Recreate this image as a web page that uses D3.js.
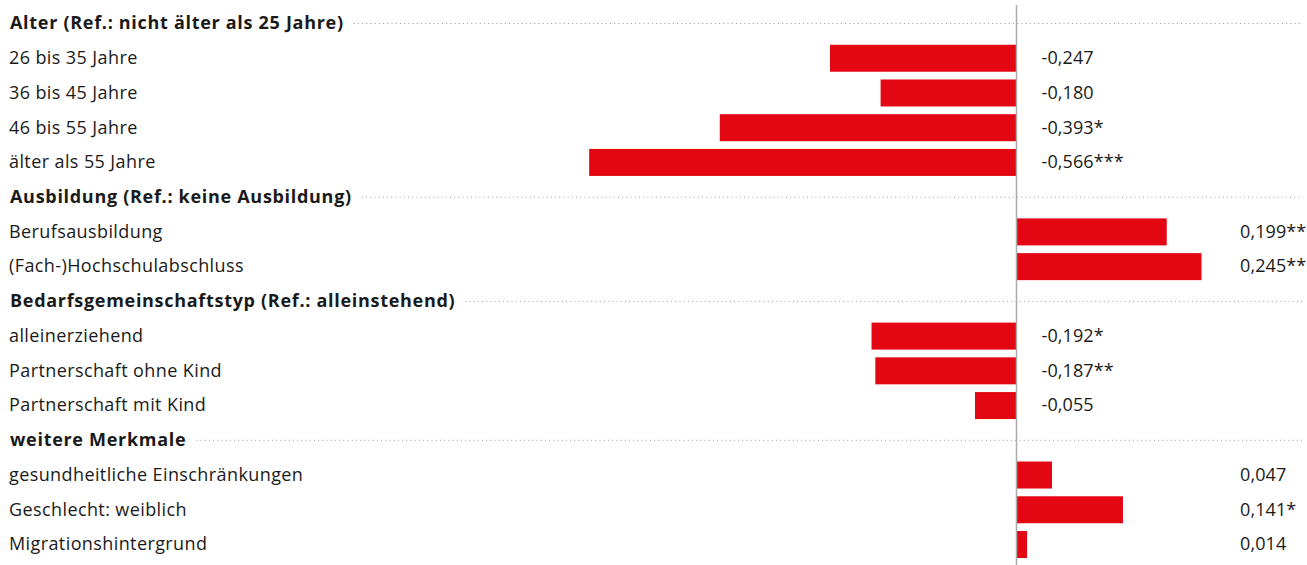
<!DOCTYPE html>
<html>
<head>
<meta charset="utf-8">
<script src="https://cdn.jsdelivr.net/npm/d3@7"></script>
<style>
  html, body { margin: 0; padding: 0; background: #fff; }
  svg { display: block; font-family: "Open Sans", sans-serif; }
</style>
</head>
<body>
<div id="chart"></div>
<script>
// global constants
const WIDTH = 1307;
const HEIGHT = 565;
const LABEL_X = 9;
const FONT_SIZE = 18;
const RED = "#e30613";
const TEXT = "#1a1a1a";

// data: group headers, item labels, coefficients, significance stars
const groups = [
  "Alter (Ref.: nicht älter als 25 Jahre)",
  "Ausbildung (Ref.: keine Ausbildung)",
  "Bedarfsgemeinschaftstyp (Ref.: alleinstehend)",
  "weitere Merkmale",
];
const groupItems = [
  ["26 bis 35 Jahre", "36 bis 45 Jahre", "46 bis 55 Jahre", "älter als 55 Jahre"],
  ["Berufsausbildung", "(Fach-)Hochschulabschluss"],
  ["alleinerziehend", "Partnerschaft ohne Kind", "Partnerschaft mit Kind"],
  ["gesundheitliche Einschränkungen", "Geschlecht: weiblich", "Migrationshintergrund"],
];
const groupValues = [
  [-0.247, -0.180, -0.393, -0.566],
  [0.199, 0.245],
  [-0.192, -0.187, -0.055],
  [0.047, 0.141, 0.014],
];
const groupStars = [
  ["", "", "*", "***"],
  ["**", "**"],
  ["*", "**", ""],
  ["", "*", ""],
];

// flatten into rows
const rows = [];
groups.forEach((g, gi) => {
  rows.push({ id: "h" + gi, type: "header", label: g });
  groupItems[gi].forEach((lab, i) => {
    rows.push({
      id: "r" + gi + "_" + i,
      type: "item",
      label: lab,
      value: groupValues[gi][i],
      stars: groupStars[gi][i],
    });
  });
});

const fmt = (v) => d3.format(".3f")(v).replace(".", ",").replace("−", "-");

const svg = d3.select("#chart")
  .append("svg")
  .attr("width", WIDTH)
  .attr("height", HEIGHT);

// scales
const y = d3.scalePoint()
  .domain(rows.map((d) => d.id))
  .range([23, 544]);

const x = d3.scaleLinear()
  .domain([-0.6, 0.3])
  .range([563.5, 1243]);

const BAR_H = 27;

// header rows: bold text plus dotted leader
const headers = svg.append("g")
  .selectAll("g")
  .data(rows.filter((d) => d.type === "header"))
  .join("g")
  .attr("transform", (d) => `translate(0,${y(d.id)})`);

headers.append("text")
  .attr("x", LABEL_X + 1)
  .attr("dy", "0.35em")
  .attr("font-size", FONT_SIZE)
  .attr("font-weight", "bold")
  .attr("letter-spacing", 0.7)
  .attr("fill", TEXT)
  .text((d) => d.label);

headers.each(function () {
  const g = d3.select(this);
  const w = g.select("text").node().getComputedTextLength();
  g.append("line")
    .attr("x1", LABEL_X + w + 11)
    .attr("x2", WIDTH - 4)
    .attr("y1", 0.5)
    .attr("y2", 0.5)
    .attr("stroke", "#9a9a9a")
    .attr("stroke-width", 1)
    .attr("stroke-dasharray", "1,3.2");
});

// item rows
const items = svg.append("g")
  .selectAll("g")
  .data(rows.filter((d) => d.type === "item"))
  .join("g")
  .attr("transform", (d) => `translate(0,${y(d.id)})`);

items.append("text")
  .attr("x", LABEL_X)
  .attr("dy", "0.35em")
  .attr("font-size", FONT_SIZE)
  .attr("letter-spacing", 0.4)
  .attr("fill", TEXT)
  .text((d) => d.label);

items.append("rect")
  .attr("x", (d) => x(Math.min(0, d.value)))
  .attr("width", (d) => Math.abs(x(d.value) - x(0)))
  .attr("y", -BAR_H / 2 + 0.5)
  .attr("height", BAR_H)
  .attr("fill", RED);

items.append("text")
  .attr("x", (d) => (d.value < 0 ? x(0) + 25 : 1240))
  .attr("dy", "0.35em")
  .attr("font-size", FONT_SIZE)
  .attr("letter-spacing", 0.1)
  .attr("fill", TEXT)
  .text((d) => fmt(d.value) + d.stars);

// zero line
svg.append("line")
  .attr("x1", x(0))
  .attr("x2", x(0))
  .attr("y1", 5)
  .attr("y2", HEIGHT)
  .attr("stroke", "#ababab")
  .attr("stroke-width", 1.5);
</script>
</body>
</html>
